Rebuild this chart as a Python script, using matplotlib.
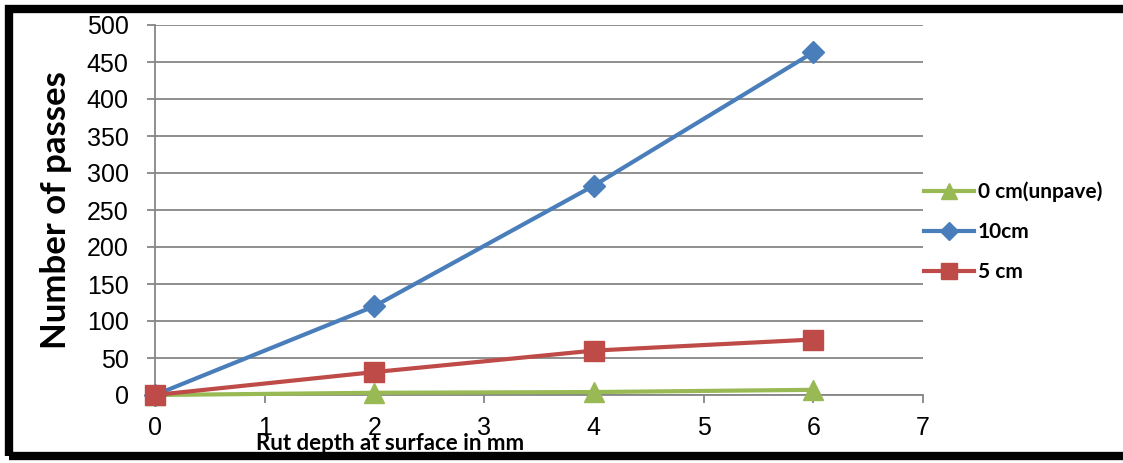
import matplotlib
matplotlib.use("Agg")
import matplotlib.pyplot as plt
from matplotlib.patches import Rectangle
from matplotlib import font_manager

x_vals = [0, 2, 4, 6]
unpaved = [0, 3, 4, 7]
cm10 = [0, 120, 283, 463]
cm5 = [0, 31, 60, 75]
series_labels = ["0 cm(unpave)", "10cm", "5 cm"]
x_label = "Rut depth at surface in mm"
y_label = "Number of passes"

names = {f.name for f in font_manager.fontManager.ttflist}
narrow = "Liberation Sans Narrow" in names

W, H = 1123, 463
fig = plt.figure(figsize=(W / 100, H / 100), dpi=100)
ax = fig.add_axes([155 / W, 1 - 395 / H, (923 - 155) / W, (395 - 25) / H])

green = "#98B954"
blue = "#4A7EBB"
red = "#BE4B48"
grid_c = "#868686"

l0, = ax.plot(x_vals, unpaved, color=green, lw=3, marker="^", ms=14, label=series_labels[0], zorder=3, clip_on=False)
l1, = ax.plot(x_vals, cm10, color=blue, lw=3, marker="D", ms=11, label=series_labels[1], zorder=4, clip_on=False)
l2, = ax.plot(x_vals, cm5, color=red, lw=3, marker="s", ms=14, label=series_labels[2], zorder=5, clip_on=False)

ax.set_xlim(0, 7)
ax.set_ylim(0, 500)
ax.set_xticks(range(0, 8))
ax.set_yticks(range(0, 501, 50))
ax.yaxis.grid(True, color=grid_c, lw=1.3)
ax.set_axisbelow(True)
for s in ["top", "right"]:
    ax.spines[s].set_visible(False)
for s in ["left", "bottom"]:
    ax.spines[s].set_color(grid_c)
    ax.spines[s].set_linewidth(1.3)
ax.tick_params(axis="both", direction="out", length=6, width=1.3, color=grid_c,
               labelsize=18)
ax.tick_params(axis="y", pad=13)
ax.tick_params(axis="x", pad=9)
for lab in ax.get_xticklabels() + ax.get_yticklabels():
    lab.set_family("Liberation Sans")
ax.patch.set_alpha(0)

fig.text(56 / W, 1 - 210 / H, y_label, rotation=90, ha="center", va="center",
         fontsize=25, fontweight="bold", family="Lato")
if narrow:
    fig.text(390 / W, 1 - 443 / H, x_label, ha="center", va="center",
             fontsize=18.5, fontweight="bold", family="Liberation Sans Narrow", zorder=6)
else:
    fig.text(390 / W, 1 - 443 / H, x_label, ha="center", va="center",
             fontsize=16, fontweight="bold", family="Lato", zorder=6)

leg = fig.legend(handles=[l0, l1, l2], loc="upper left",
                 bbox_to_anchor=(905 / W, 1 - 163 / H), frameon=False,
                 prop={"family": "Lato", "weight": "bold", "size": 15},
                 handlelength=2.4, handletextpad=0.2, labelspacing=0.95,
                 markerscale=0.8)

fig.patches.append(Rectangle((9 / W, 1 - 456 / H), (1130 - 9) / W, (456 - 9) / H,
                             transform=fig.transFigure, fill=False,
                             edgecolor="black", lw=6, zorder=10))

fig.savefig("out.png", dpi=100)
